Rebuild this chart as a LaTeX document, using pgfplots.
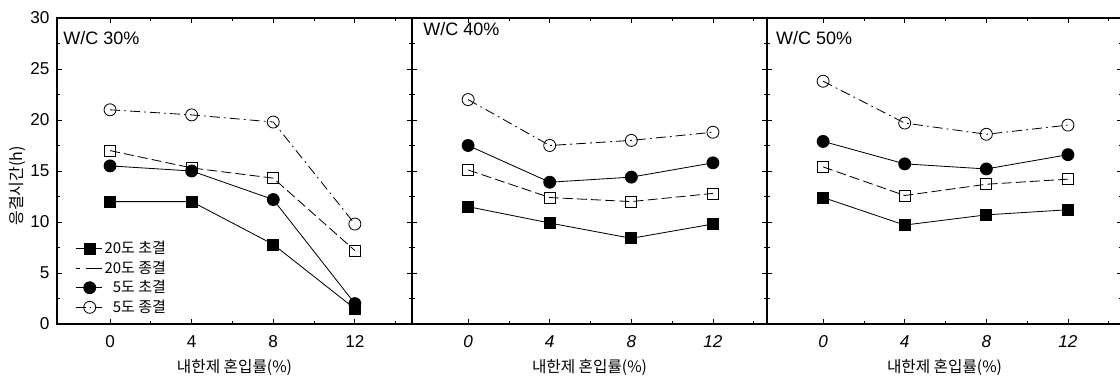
\documentclass[border=0pt]{standalone}
\usepackage{pgfplots}
\pgfplotsset{compat=1.18}
\usepackage{fontspec}
\setmainfont{Liberation Sans}
\newfontfamily\kr{Noto Sans CJK KR}

\pgfplotsset{
  panel/.style={
    scale only axis, width=213pt, height=183.6pt,
    ymin=0, ymax=30,
    xtick={0,4,8,12}, minor xtick={2,6,10,14},
    ytick={0,5,...,30}, minor ytick={2.5,7.5,...,27.5},
    tick align=inside, major tick length=3pt, minor tick length=2pt,
    axis line style={line width=0.7pt},
    every tick/.style={black, line width=0.5pt},
    tick label style={font=\fontsize{10.3}{12}\selectfont},
    /pgf/number format/assume math mode=true,
    xticklabel style={yshift=-3.5pt},
    yticklabel style={xshift=-1pt},
    xlabel={\kr 내한제 혼입률(\%)},
    x label style={font=\kr\fontsize{9.4}{11}\selectfont, at={(axis description cs:0.5,0)}, anchor=center, yshift=-26pt},
  },
  s20i/.style={black, line width=0.5pt, mark=square*, mark size=3.3pt, mark options={solid, fill=black}},
  s20f/.style={black, line width=0.5pt, dash pattern=on 6pt off 2.5pt, mark=square, mark size=3.3pt, mark options={solid, fill=white}},
  s5i/.style={black, line width=0.5pt, mark=*, mark size=3.6pt, mark options={solid, fill=black}},
  s5f/.style={black, line width=0.5pt, dash pattern=on 6pt off 2.5pt on 1pt off 2.5pt, mark=o, mark size=3.6pt, mark options={solid, fill=white}},
}

\begin{document}
\begin{tikzpicture}
\useasboundingbox (0pt,0pt) rectangle (672pt,229.8pt);

% Panel 1: W/C 30%
\begin{axis}[panel, at={(34.2pt,35.4pt)}, anchor=south west, xmin=-2.6, xmax=14.8,
  legend style={at={(axis description cs:0.05,0.28)}, anchor=north west, draw=none, fill=none,
    inner sep=0pt, row sep=-0.2pt, font=\kr\fontsize{9}{9.5}\selectfont, nodes={inner sep=1.5pt},
    legend image code/.code={\draw[mark repeat=2,mark phase=2,#1] plot coordinates {(0cm,0cm) (0.3cm,0cm) (0.55cm,0cm)};}},
  legend cell align=left]
\addplot[s20i] coordinates {(0,12.0) (4,12.0) (8,7.8) (12,1.5)};
\addlegendentry{20도 초결}
\addplot[s20f, legend image code/.code={\draw[black, line width=0.5pt, dash pattern=on 2.5pt off 3.5pt on 8pt off 0pt] (0cm,0cm) -- (0.55cm,0cm);}] coordinates {(0,17.0) (4,15.3) (8,14.3) (12,7.2)};
\addlegendentry{20도 종결}
\addplot[s5i] coordinates {(0,15.5) (4,15.0) (8,12.2) (12,2.0)};
\addlegendentry{\phantom{2}5도 초결}
\addplot[s5f] coordinates {(0,21.0) (4,20.5) (8,19.8) (12,9.8)};
\addlegendentry{\phantom{2}5도 종결}
\node[anchor=west, inner sep=0pt, font=\fontsize{10.8}{12}\selectfont] at (rel axis cs:0.017,0.935) {W/C 30\%};
\end{axis}

% Panel 2: W/C 40%
\begin{axis}[panel, at={(247.2pt,35.4pt)}, anchor=south west, xmin=-2.75, xmax=14.65,
  yticklabel=\empty, xticklabel style={font=\itshape\fontsize{10.3}{12}\selectfont}]
\addplot[s20i] coordinates {(0,11.5) (4,9.9) (8,8.4) (12,9.8)};
\addplot[s20f] coordinates {(0,15.1) (4,12.4) (8,12.0) (12,12.8)};
\addplot[s5i] coordinates {(0,17.5) (4,13.9) (8,14.4) (12,15.8)};
\addplot[s5f] coordinates {(0,22.0) (4,17.5) (8,18.0) (12,18.8)};
\node[anchor=west, inner sep=0pt, font=\fontsize{10.8}{12}\selectfont] at (rel axis cs:0.031,0.965) {W/C 40\%};
\end{axis}

% Panel 3: W/C 50%
\begin{axis}[panel, at={(460.2pt,35.4pt)}, anchor=south west, xmin=-2.75, xmax=14.65,
  yticklabel=\empty, xticklabel style={font=\itshape\fontsize{10.3}{12}\selectfont}]
\addplot[s20i] coordinates {(0,12.4) (4,9.7) (8,10.7) (12,11.2)};
\addplot[s20f] coordinates {(0,15.4) (4,12.6) (8,13.7) (12,14.2)};
\addplot[s5i] coordinates {(0,17.9) (4,15.7) (8,15.2) (12,16.6)};
\addplot[s5f] coordinates {(0,23.8) (4,19.7) (8,18.6) (12,19.5)};
\node[anchor=west, inner sep=0pt, font=\fontsize{10.8}{12}\selectfont] at (rel axis cs:0.025,0.935) {W/C 50\%};
\end{axis}

\node[rotate=90, font=\kr\fontsize{9.6}{10}\selectfont] at (10.5pt,118.2pt) {응결시간(h)};
\end{tikzpicture}
\end{document}
